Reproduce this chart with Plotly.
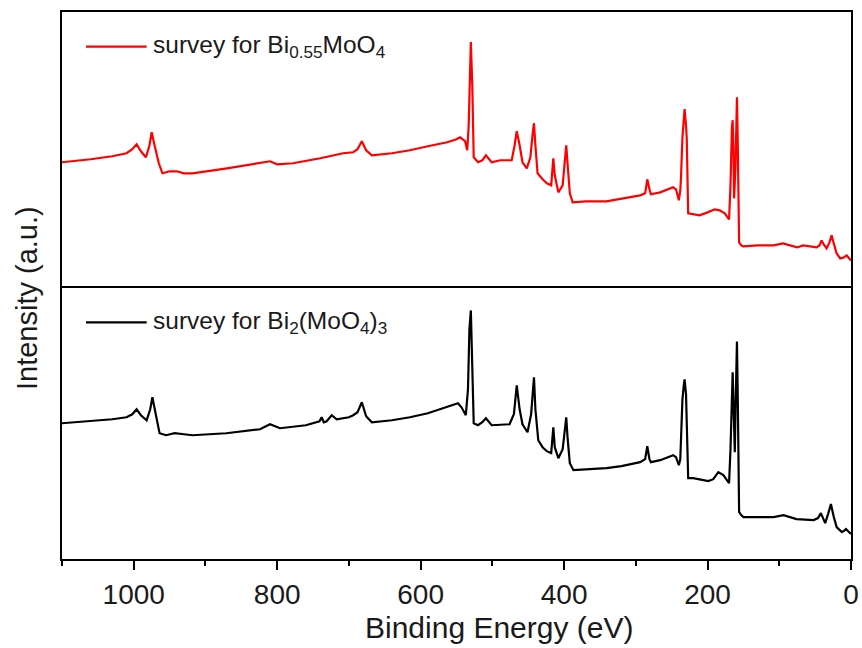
import plotly.graph_objects as go
from plotly.subplots import make_subplots

# Binding energy (eV) and intensity (a.u.)
energy_top = [1100, 1060, 1030, 1010, 1002, 996, 990, 983, 978, 975, 971, 965, 960, 950, 940, 930,
              918, 870, 810, 800, 778, 740, 708, 694, 688, 682, 676, 668, 640, 615, 590,
              563, 550, 545, 538, 535, 533, 531, 530, 528, 526, 520, 514, 509, 504,
              501, 489, 473, 469, 466, 462, 458, 452, 447, 444, 442, 440, 437, 430,
              424, 418, 416, 415, 413, 408, 402, 399, 397, 395, 392, 388, 370, 341,
              320, 294, 287, 284, 281, 279, 266, 248, 244, 240, 238, 237, 235, 233, 232,
              230, 229, 227, 220, 211, 200, 190, 183, 176, 170, 168, 166, 165, 164, 163, 161, 160,
              159, 158, 156, 153, 150, 130, 108, 95, 85, 75, 67, 56, 48, 44, 41, 38, 34,
              30, 27, 24, 20, 15, 10, 6, 3, 0]
intensity_top = [123, 126, 129, 132, 136, 141, 134, 128, 140, 153, 140, 122, 112, 114, 114, 112,
                 112, 117, 124, 121, 122, 127, 132, 133, 136, 144, 135, 130, 132, 135, 139,
                 143, 146, 148, 144, 135, 160, 225, 243, 200, 128, 123, 125, 130, 125,
                 123, 125, 125, 140, 154, 140, 123, 117, 128, 150, 162, 140, 112, 106,
                 102, 100, 115, 127, 110, 93, 100, 125, 140, 120, 92, 83, 84, 84,
                 87, 90, 92, 106, 96, 91, 93, 98, 96, 85, 95, 108, 148, 170, 176,
                 160, 147, 72, 71, 70, 73, 76, 75, 72, 66, 100, 158, 165, 140, 87, 120, 170,
                 188, 150, 43, 40, 39, 40, 40, 42, 40, 38, 40, 39, 38, 40, 45, 41, 37,
                 43, 50, 42, 32, 27, 28, 30, 28, 25]

energy_bot = [1100, 1060, 1030, 1010, 1002, 996, 990, 982, 977, 974, 970, 964, 955, 943, 930,
              918, 871, 824, 810, 796, 760, 741, 738, 735, 731, 724, 717, 700, 694, 688,
              682, 676, 668, 640, 615, 590, 569, 548, 543, 537, 534, 532, 530, 528, 526,
              520, 514, 509, 504, 501, 476, 470, 466, 462, 458, 451, 446, 444, 442, 440,
              436, 430, 424, 418, 416, 415, 413, 408, 402, 399, 397, 395, 392, 387, 370,
              341, 320, 294, 287, 284, 281, 279, 266, 248, 244, 240, 238, 237, 235, 233,
              232, 230, 229, 227, 220, 211, 199, 192, 185, 178, 170, 168, 166, 165, 164,
              163, 162, 161, 160, 159, 158, 156, 153, 150, 130, 108, 94, 85, 76, 52, 46,
              42, 38, 36, 32, 28, 24, 20, 13, 10, 7, 3, 0]
intensity_bot = [136, 138, 140, 142, 145, 150, 144, 139, 150, 162, 148, 126, 124, 126, 125,
                 124, 126, 130, 135, 131, 134, 138, 142, 137, 138, 144, 140, 142, 144, 147,
                 157, 143, 137, 139, 142, 146, 151, 156, 152, 144, 170, 230, 249, 200, 136,
                 134, 137, 141, 137, 134, 135, 145, 174, 150, 135, 127, 145, 165, 182, 150,
                 119, 112, 108, 106, 120, 132, 112, 101, 110, 130, 142, 120, 96, 89, 90,
                 91, 93, 97, 100, 113, 100, 97, 99, 104, 102, 94, 100, 129, 160, 175,
                 180, 165, 134, 81, 81, 80, 78, 80, 87, 84, 76, 110, 170, 187, 160,
                 120, 107, 150, 200, 218, 170, 47, 44, 42, 42, 42, 44, 42, 40, 39, 41,
                 46, 38, 36, 45, 55, 42, 32, 27, 28, 30, 27, 25]

legend_top = "survey for Bi<sub>0.55</sub>MoO<sub>4</sub>"
legend_bot = "survey for Bi<sub>2</sub>(MoO<sub>4</sub>)<sub>3</sub>"
x_tick_vals = [1000, 800, 600, 400, 200, 0]
x_tick_text = ["1000", "800", "600", "400", "200", "0"]

FONT = "Arial, Liberation Sans, sans-serif"
TXT = "#1a1a1a"

fig = make_subplots(rows=2, cols=1, shared_xaxes=True, vertical_spacing=0)
fig.add_trace(go.Scatter(x=energy_top, y=intensity_top, mode="lines",
                         line=dict(color="#ff0000", width=2.2), name=legend_top,
                         showlegend=False), row=1, col=1)
fig.add_trace(go.Scatter(x=energy_bot, y=intensity_bot, mode="lines",
                         line=dict(color="#000000", width=2.2), name=legend_bot,
                         showlegend=False), row=2, col=1)

axis_common = dict(showline=True, linecolor="black", linewidth=2, automargin=False,
                   showgrid=False, zeroline=False)
fig.update_xaxes(range=[1100, 0], **axis_common)
fig.update_xaxes(showticklabels=False, ticks="", mirror=True, row=1, col=1)
fig.update_xaxes(tickvals=x_tick_vals, ticktext=x_tick_text, ticks="outside", mirror=False,
                 ticklen=9, tickwidth=2, tickcolor="black",
                 minor=dict(dtick=100, ticks="outside", ticklen=5, tickwidth=2, tickcolor="black"),
                 tickfont=dict(family=FONT, size=28, color=TXT), row=2, col=1)
fig.update_yaxes(showticklabels=False, ticks="", mirror=True, **axis_common)
fig.update_yaxes(range=[0, 273], row=1, col=1)
fig.update_yaxes(range=[0, 274], row=2, col=1)

# legend samples
fig.add_shape(type="line", xref="paper", yref="paper", x0=0.0304, x1=0.1073, y0=0.9366, y1=0.9366,
              line=dict(color="#ff0000", width=2.2))
fig.add_shape(type="line", xref="paper", yref="paper", x0=0.0304, x1=0.1073, y0=0.4327, y1=0.4327,
              line=dict(color="#000000", width=2.2))
fig.add_annotation(text=legend_top, xref="paper", yref="paper", x=0.113, y=0.9366,
                   xanchor="left", yanchor="middle", showarrow=False,
                   font=dict(family=FONT, size=24.5, color=TXT))
fig.add_annotation(text=legend_bot, xref="paper", yref="paper", x=0.113, y=0.4327,
                   xanchor="left", yanchor="middle", showarrow=False,
                   font=dict(family=FONT, size=24.5, color=TXT))
# axis titles
fig.add_annotation(text="Binding Energy (eV)", xref="paper", yref="paper", x=0.554, y=-0.126,
                   xanchor="center", yanchor="middle", showarrow=False,
                   font=dict(family=FONT, size=30, color=TXT))
fig.add_annotation(text="Intensity (a.u.)", xref="paper", yref="paper", x=-0.0444, y=0.477,
                   xanchor="center", yanchor="middle", textangle=-90, showarrow=False,
                   font=dict(family=FONT, size=29, color=TXT))

fig.update_layout(width=862, height=648, margin=dict(l=62, r=11, t=12, b=89),
                  plot_bgcolor="white", paper_bgcolor="white", showlegend=False)
fig.write_html("out.html", config={"displayModeBar": False},
               post_script=("document.documentElement.style.margin='0px';"
                            "document.documentElement.style.overflow='hidden';"
                            "document.body.style.margin='0px';"
                            "document.body.style.overflow='hidden';"))
